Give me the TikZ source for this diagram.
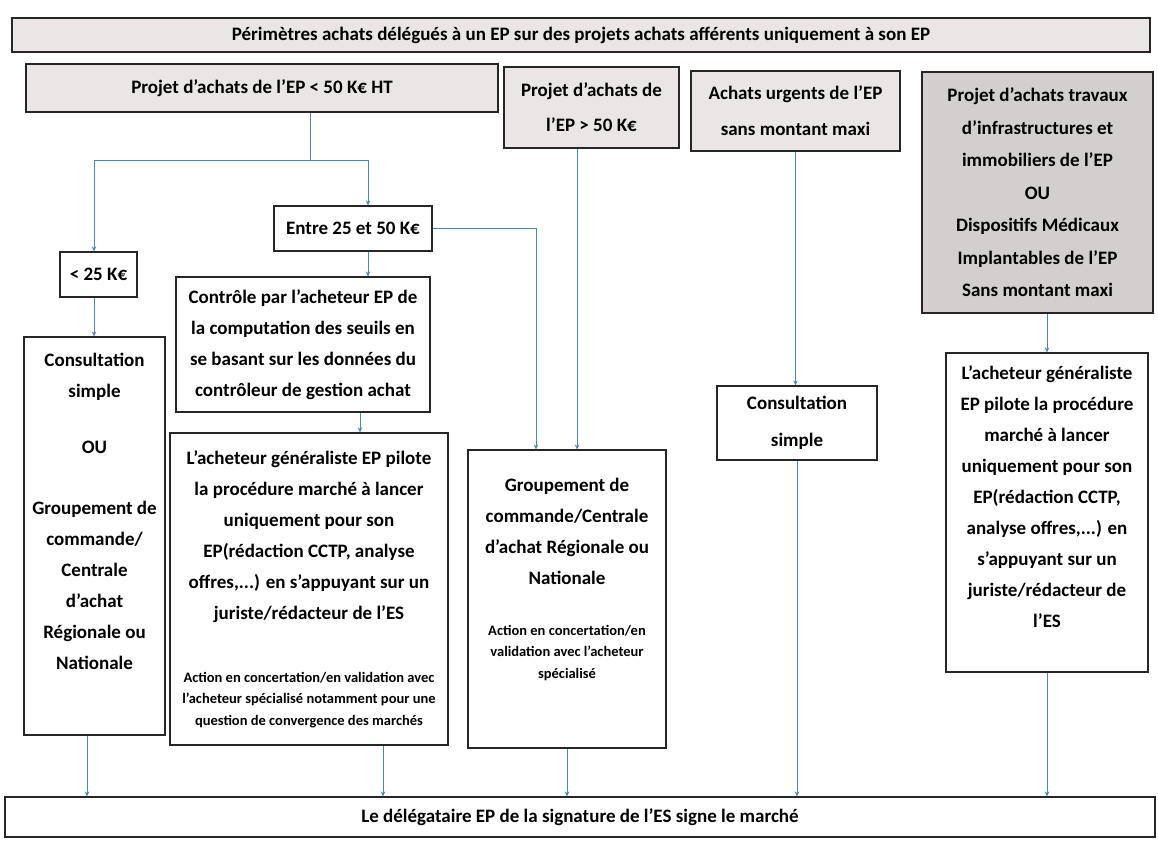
\documentclass[tikz,border=0pt]{standalone}
\usepackage{fontspec}
\setmainfont{Carlito}
\usetikzlibrary{arrows.meta,positioning}

\definecolor{grisclair}{HTML}{EAE6E6}
\definecolor{grisfonce}{HTML}{D3CFCF}
\definecolor{bleulien}{HTML}{4A86C2}

\tikzset{
  boite/.style={draw=black!85, line width=1.2pt, inner sep=0pt, align=center,
    font=\bfseries\fontsize{19}{31}\selectfont},
  entete/.style={boite, fill=grisclair},
  texte/.style={inner sep=0pt, align=center, font=\bfseries\fontsize{19}{31}\selectfont},
  petit/.style={inner sep=0pt, align=center, font=\bfseries\fontsize{14.5}{21.5}\selectfont},
  trait/.style={draw=bleulien, line width=0.8pt},
  lien/.style={trait, -{Stealth[length=5pt,width=4.5pt]}},
}

\begin{document}
\begin{tikzpicture}[x=1pt,y=-1pt]
  \useasboundingbox (0,0) rectangle (1158,857);

  % bandeau du haut
  \node[entete, minimum width=1138pt, minimum height=34pt] (perimetre) at (581,35)
    {Périmètres achats délégués à un EP sur des projets achats afférents uniquement à son EP};

  % les quatre entêtes
  \node[entete, minimum width=472pt, minimum height=48pt] (moins50) at (262,88)
    {Projet d’achats de l’EP < 50 K€ HT};
  \node[entete, minimum width=175pt, minimum height=81pt,
    font=\bfseries\fontsize{19}{35}\selectfont] (plus50) at (591.5,107.5)
    {Projet d’achats de\\l’EP > 50 K€};
  \node[entete, minimum width=209pt, minimum height=80pt,
    font=\bfseries\fontsize{19}{36}\selectfont] (urgents) at (795.5,111)
    {Achats urgents de l’EP\\sans montant maxi};
  \node[entete, fill=grisfonce, minimum width=231pt, minimum height=241pt,
    font=\bfseries\fontsize{19}{32.5}\selectfont] (travaux) at (1037.5,192.5)
    {Projet d’achats travaux\\d’infrastructures et\\immobiliers de l’EP\\OU\\Dispositifs Médicaux\\Implantables de l’EP\\Sans montant maxi};

  % seuils
  \node[boite, minimum width=158pt, minimum height=45pt] (entre) at (353,228.5)
    {Entre 25 et 50 K€};
  \node[boite, minimum width=77pt, minimum height=45pt] (moins25) at (98.5,274.5)
    {< 25 K€};
  \node[boite, minimum width=254pt, minimum height=135pt] (controle) at (303,344.5)
    {Contrôle par l’acheteur EP de\\la computation des seuils en\\se basant sur les données du\\contrôleur de gestion achat};

  % boites de procédure
  \node[boite, minimum width=141pt, minimum height=398pt] (gauche) at (94.5,536) {};
  \node[texte, anchor=north] (gauchetxt) at ([yshift=-17pt]gauche.north)
    {Consultation\\simple\\[25pt]OU\\[30pt]Groupement de\\commande/\\Centrale\\d’achat\\Régionale ou\\Nationale};

  \node[boite, minimum width=278pt, minimum height=312pt] (pilote) at (309,589) {};
  \node[texte, anchor=north] (pilotetxt) at ([yshift=-18pt]pilote.north)
    {L’acheteur généraliste EP pilote\\la procédure marché à lancer\\uniquement pour son\\EP(rédaction CCTP, analyse\\offres,...) en s’appuyant sur un\\juriste/rédacteur de l’ES};
  \node[petit] (pilotenote) at (309,700)
    {Action en concertation/en validation avec\\l’acheteur spécialisé notamment pour une\\question de convergence des marchés};

  \node[boite, minimum width=198pt, minimum height=298pt] (groupement) at (567,599) {};
  \node[texte, anchor=north] (groupementtxt) at ([yshift=-29pt]groupement.north)
    {Groupement de\\commande/Centrale\\d’achat Régionale ou\\Nationale};
  \node[petit] (groupementnote) at (567,653)
    {Action en concertation/en\\validation avec l’acheteur\\spécialisé};

  \node[boite, minimum width=160pt, minimum height=74pt,
    font=\bfseries\fontsize{19}{37}\selectfont] (consult) at (797,423)
    {Consultation\\simple};

  \node[boite, minimum width=202pt, minimum height=319pt] (droite) at (1047,512.5) {};
  \node[texte, anchor=north] (droitetxt) at ([yshift=-13pt]droite.north)
    {L’acheteur généraliste\\EP pilote la procédure\\marché à lancer\\uniquement pour son\\EP(rédaction CCTP,\\analyse offres,...) en\\s’appuyant sur un\\juriste/rédacteur de\\l’ES};

  % bandeau du bas
  \node[boite, minimum width=1150pt, minimum height=40pt] (signature) at (580,817)
    {Le délégataire EP de la signature de l’ES signe le marché};

  % liaisons
  \coordinate (fourche) at (310,160);
  \draw[trait] (fourche |- moins50.south) -- (fourche);
  \draw[lien] (fourche) -| ([xshift=-4.5pt]moins25.north);
  \draw[lien] (fourche) -| ([xshift=15pt]entre.north);
  \draw[lien] (entre.east) -| ([xshift=-31pt]groupement.north);
  \draw[lien] ([xshift=-14.5pt]plus50.south) -- ([xshift=10pt]groupement.north);
  \draw[lien] ([xshift=15pt]entre.south) -- ([xshift=65pt]controle.north);
  \draw[lien] ([xshift=57pt]controle.south) -- ([xshift=51pt]pilote.north);
  \draw[lien] ([xshift=-4.5pt]moins25.south) -- ([xshift=-0.5pt]gauche.north);
  \draw[lien] (urgents.south) -- (urgents.south |- consult.north);
  \draw[lien] (droite.north |- travaux.south) -- (droite.north);

  % vers la signature
  \draw[lien] ([xshift=-7.5pt]gauche.south) -- ([xshift=-7.5pt]gauche.south |- signature.north);
  \draw[lien] ([xshift=74pt]pilote.south) -- ([xshift=74pt]pilote.south |- signature.north);
  \draw[lien] (groupement.south) -- (groupement.south |- signature.north);
  \draw[lien] (consult.south) -- (consult.south |- signature.north);
  \draw[lien] (droite.south) -- (droite.south |- signature.north);
\end{tikzpicture}
\end{document}
